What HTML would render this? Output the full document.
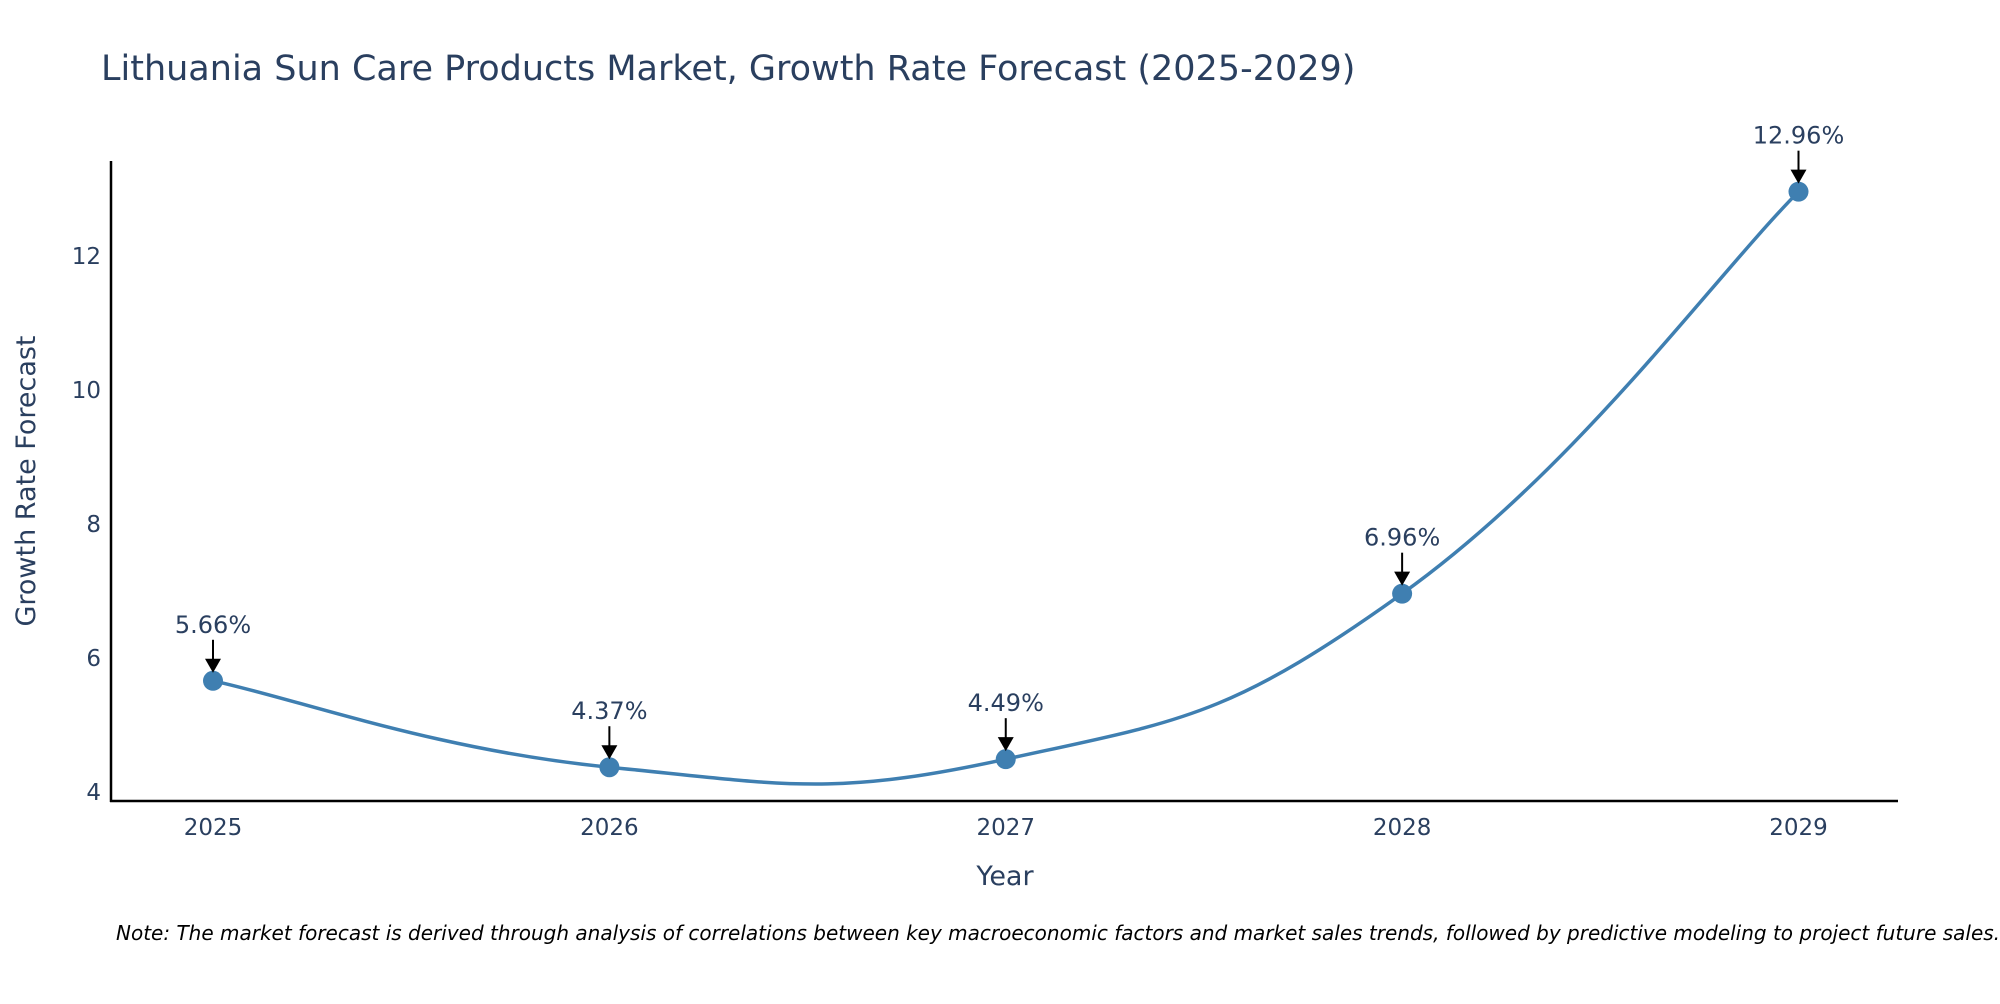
<!DOCTYPE html>
<html><head><meta charset="utf-8"><style>
body{margin:0;background:#fff;width:2000px;height:1000px;overflow:hidden;font-family:"DejaVu Sans","Liberation Sans",sans-serif;}
</style></head><body>
<svg id="chart" width="2000" height="1000" xmlns="http://www.w3.org/2000/svg" font-family="DejaVu Sans, Liberation Sans, sans-serif">
<text x="101" y="80" font-size="35" fill="#2a3f5f">Lithuania Sun Care Products Market, Growth Rate Forecast (2025-2029)</text>
<line x1="111" y1="161" x2="111" y2="802" stroke="#000" stroke-width="2.5"/>
<line x1="110" y1="801" x2="1898" y2="801" stroke="#000" stroke-width="2.5"/>
<g id="yticks"></g><g id="xticks"></g>
<text transform="translate(35,481) rotate(-90)" text-anchor="middle" font-size="27" fill="#2a3f5f">Growth Rate Forecast</text>
<text x="1005" y="885" text-anchor="middle" font-size="27" fill="#2a3f5f">Year</text>
<path id="line" fill="none" stroke="#3f7fb1" stroke-width="3.5"/>
<g id="marks"></g>
<text x="116" y="940" font-size="20" font-style="italic" fill="#000">Note: The market forecast is derived through analysis of correlations between key macroeconomic factors and market sales trends, followed by predictive modeling to project future sales.</text>
</svg>
<script>
const years = ["2025","2026","2027","2028","2029"];
const values = [5.66, 4.37, 4.49, 6.96, 12.96];
const yTicks = [4, 6, 8, 10, 12];
const NS = "http://www.w3.org/2000/svg";
function xs(i){ return 213 + i * (1798.5 - 213) / (years.length - 1); }
function ys(v){ return 792 - (v - 4) * 67; }
function mk(tag, attrs, parent){ const e = document.createElementNS(NS, tag); for (const k in attrs) e.setAttribute(k, attrs[k]); parent.appendChild(e); return e; }
const yt = document.getElementById('yticks');
yTicks.forEach(t => {
  const e = mk('text', {x: 101, y: ys(t) + 8, 'text-anchor': 'end', 'font-size': 23, fill: '#2a3f5f'}, yt);
  
  
  e.textContent = t;
});
const xt = document.getElementById('xticks');
years.forEach((y, i) => {
  const e = mk('text', {x: xs(i), y: 835, 'text-anchor': 'middle', 'font-size': 23, fill: '#2a3f5f'}, xt);
  
  
  e.textContent = y;
});
const pts = values.map((v, i) => [xs(i), ys(v)]);
let d = `M${pts[0][0]},${pts[0][1]}`;
const s = 0.22;
for (let i = 0; i < pts.length - 1; i++) {
  const p0 = pts[Math.max(0, i - 1)], p1 = pts[i], p2 = pts[i + 1], p3 = pts[Math.min(pts.length - 1, i + 2)];
  const c1 = [p1[0] + (p2[0] - p0[0]) * s, p1[1] + (p2[1] - p0[1]) * s];
  const c2 = [p2[0] - (p3[0] - p1[0]) * s, p2[1] - (p3[1] - p1[1]) * s];
  d += ` C${c1[0]},${c1[1]} ${c2[0]},${c2[1]} ${p2[0]},${p2[1]}`;
}
document.getElementById('line').setAttribute('d', d);
const mg = document.getElementById('marks');
values.forEach((v, i) => {
  const cx = xs(i), cy = ys(v);
  const c = mk('circle', {cx: cx, cy: cy, r: 10, fill: '#3f7fb1'}, mg);
  
  
  const l = mk('line', {x1: cx, y1: cy - 41, x2: cx, y2: cy - 20, stroke: '#000', 'stroke-width': 2}, mg);
  
  
  const a = mk('path', {d: `M${cx - 8},${cy - 22} L${cx + 8},${cy - 22} L${cx},${cy - 8} Z`, fill: '#000'}, mg);
  
  
  const t = mk('text', {x: cx, y: cy - 48, 'text-anchor': 'middle', 'font-size': 24, fill: '#2a3f5f'}, mg);
  
  
  t.textContent = v.toFixed(2) + '%';
});
</script>
</body></html>
